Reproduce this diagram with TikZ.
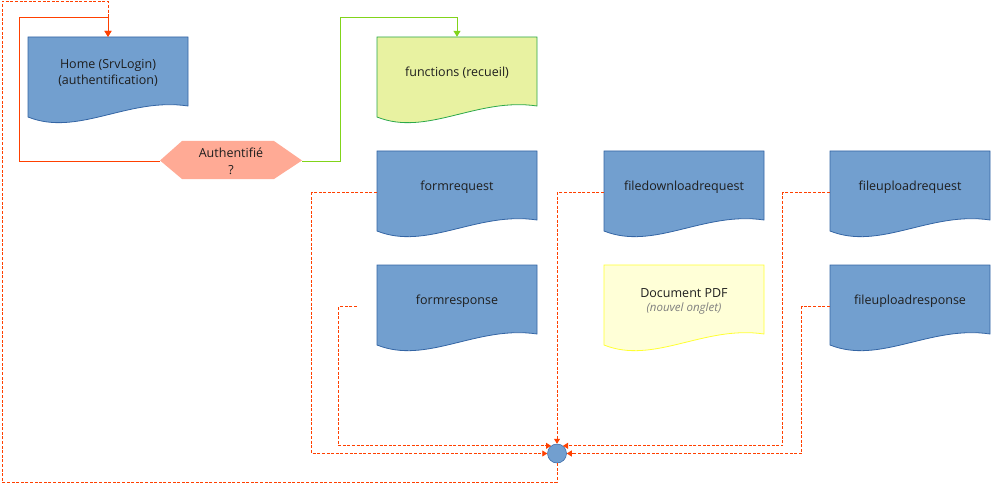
\documentclass[tikz,border=0pt]{standalone}
\usepackage{fontspec}
\setmainfont{Open Sans}
\usetikzlibrary{calc,arrows.meta}
\definecolor{blueF}{HTML}{729FCF}
\definecolor{blueD}{HTML}{3465A4}
\definecolor{funF}{HTML}{E8F2A1}
\definecolor{funD}{HTML}{2BA84A}
\definecolor{pdfF}{HTML}{FFFFD7}
\definecolor{pdfD}{HTML}{FFFF33}
\definecolor{hexF}{HTML}{FFAA95}
\definecolor{redL}{HTML}{FF4000}
\definecolor{greenL}{HTML}{81D41A}
\definecolor{txt}{HTML}{1E1E1E}
\definecolor{subtxt}{HTML}{7F7F7F}
\newcommand\mydoc[5]{%
  \path[#4] (#2,#3) -- ({#2+160},#3) -- ({#2+160},{#3+69})
    .. controls ({#2+100},{#3+60}) and ({#2+50},{#3+100}) .. (#2,{#3+80}) -- cycle;
  \node[doctext] (#1) at ({#2+80},{#3+36}) {#5};
}
\begin{document}
\begin{tikzpicture}[x=1pt,y=-1pt,
  doctext/.style={minimum width=160pt,minimum height=72pt,inner sep=0pt,align=center,
    text=txt,font=\fontsize{12.5}{16}\selectfont},
  bluebox/.style={fill=blueF,draw=blueD,line width=0.8pt},
  funbox/.style={fill=funF,draw=funD,line width=0.8pt},
  pdfbox/.style={fill=pdfF,draw=pdfD,line width=0.8pt},
  tipA/.style={-{Triangle[length=6pt,width=7pt]}},
  tipB/.style={-{Triangle[length=5pt,width=6pt]}},
  redsolid/.style={draw=redL,line width=1pt},
  greensolid/.style={draw=greenL,line width=1pt},
  reddash/.style={draw=redL,line width=0.9pt,dash pattern=on 3pt off 1.6pt}]
\useasboundingbox (0,0) rectangle (992,489);

\mydoc{home}{28}{37}{bluebox}{Home (SrvLogin)\\(authentification)}
\mydoc{fun}{377}{37}{funbox}{functions (recueil)}
\mydoc{frq}{377}{151}{bluebox}{formrequest}
\mydoc{frs}{377}{265}{bluebox}{formresponse}
\mydoc{fdr}{604}{151}{bluebox}{filedownloadrequest}
\mydoc{pdf}{604}{265}{pdfbox}{Document PDF\\[-2pt]{\fontsize{11.5}{14}\selectfont\itshape\color{subtxt}(nouvel onglet)}}
\mydoc{fur}{830}{151}{bluebox}{fileuploadrequest}
\mydoc{fus}{830}{265}{bluebox}{fileuploadresponse}

% decision hexagon
\path[fill=hexF] (160,160.5) -- (182,141) -- (274,141) -- (302,160.5) -- (274,179) -- (182,179) -- cycle;
\node[minimum width=142pt,minimum height=38pt,inner sep=0pt,align=center,text=txt,
  font=\fontsize{12.5}{17}\selectfont] (auth) at (231,161.5) {Authentifié\\?};

% junction circle
\node[circle,fill=blueF,draw=blueD,line width=0.5pt,minimum size=19pt,inner sep=0pt] (c) at (557,453.5) {};

% solid connectors
\draw[redsolid,tipA] (auth.west) -| (19,18) -| (home.north);
\draw[greensolid,tipA] (auth.east) -| (340,18) -| (fun.north);

% dashed connectors to junction
\draw[reddash,tipB] ($(frq.north west)+(0,42)$) -- ++(-65,0) |- (c.west);
\draw[reddash,tipB] ($(frs.north west)+(-20,42)$) -- ++(-18,0) |- (c.128);
\draw[reddash,tipB] ($(fdr.north west)+(0,42)$) -| (c.north);
\draw[reddash,tipB] ($(fur.north west)+(0,42)$) -- ++(-47,0) |- (c.52);
\draw[reddash,tipB] ($(fus.north west)+(0,42)$) -- ++(-28,0) |- (c.east);

% return loop to home
\draw[reddash,tipA] (c.south) |- (2,482) -- (2,1.5) -| (home.north);
\end{tikzpicture}
\end{document}
